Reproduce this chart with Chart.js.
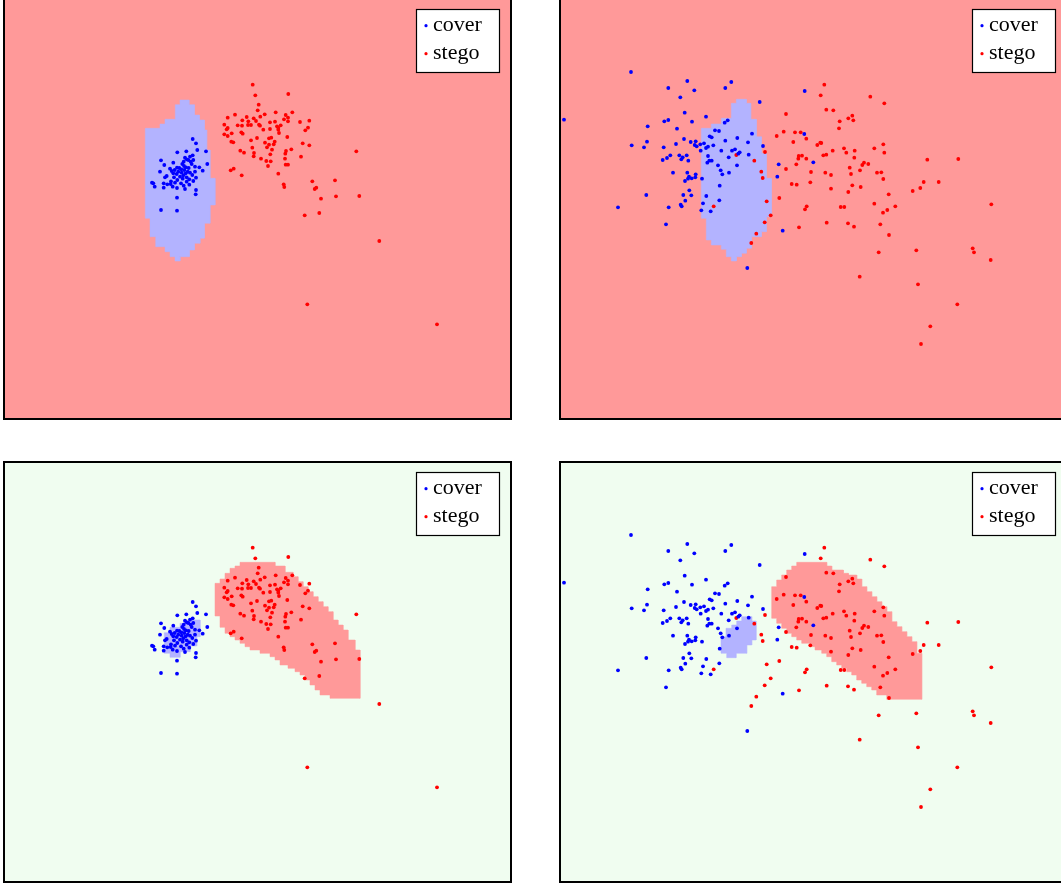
<!DOCTYPE html>
<html><head><meta charset="utf-8">
<script src="https://cdn.jsdelivr.net/npm/chart.js@4.4.1/dist/chart.umd.min.js"></script>
<style>
html,body{margin:0;padding:0;background:#fff;overflow:hidden;width:1061px;height:884px;position:relative}
canvas{position:absolute}
</style></head><body>
<script>
// ---- Data (left pair of panels: panels 1 & 3) ----
const coverA = [[192.7,139],[196,143.3],[197.3,150],[206,151.3],[177.3,152.3],[186.3,151.3],[192.7,155.3],[190,156.7],[185,157.7],[186.7,159.3],[161,160.3],[193.3,160],[190.7,161.7],[173.3,162.7],[164.3,165],[183.7,161.7],[182.3,164],[191.7,164],[207.3,164],[195,166.7],[199.3,167.3],[177,167.7],[170,168.7],[179.3,168],[186,167.3],[188.7,168],[184.3,170],[181.3,169.3],[174.7,170],[202.7,170.7],[171.7,171],[178.3,171.7],[187.7,171.7],[160,171.7],[173.3,173.3],[176.7,174],[181.7,172.7],[185.7,173.3],[190,172.7],[195,171.7],[192.3,175],[183.3,175.3],[166.7,176],[180,176.7],[186.7,177.3],[189.3,179.3],[196,177.7],[174,177.3],[165,177.3],[177.3,180],[171,181.3],[153.3,183.3],[154.7,186.7],[163.7,183.3],[167.3,184.3],[181,183.3],[183.7,185.7],[189.3,184.7],[193.3,181],[186.7,181.7],[177,188],[185,189],[163.7,187.7],[196,190],[195.7,194.3],[177,197.7],[161,210],[177,210.7],[170.7,184],[172.7,186.7],[175,182.7],[152,182.7],[182.7,178.7],[188.3,160],[184,166]];
const stegoA = [[252.7,84.7],[255.3,95.3],[288.3,94],[258.7,104.7],[257.7,110.3],[275.7,112.3],[292.3,112.3],[264.7,114.3],[235,114.7],[285.7,115],[227.7,117.7],[246.7,117],[260.3,116.7],[253.7,118.3],[288,117.7],[284,119.3],[242.3,120.3],[248.3,121.3],[256,121],[275,121.7],[288,121.3],[270,122.3],[300,122],[309.3,120.7],[224.3,124.7],[237.7,125.3],[242,125.7],[248,125],[251,125],[259,124.7],[260,125.7],[277,126.3],[280.7,125.3],[227.7,128],[226.7,129.3],[263.3,129.7],[270,129],[278.3,127.7],[278.3,129.7],[308,127.7],[305.3,130.3],[279,133],[241.3,132.3],[242.7,133.7],[224.3,134.3],[227.7,136],[231.7,133.3],[287.3,137],[257,138],[269,138.3],[271.3,137.7],[251,140.3],[231.3,141.7],[233.3,142.3],[265,142.7],[274.7,141.7],[269,144.7],[273.7,144.3],[267,147.3],[302.7,143.3],[309.3,145.3],[252.3,147.7],[272,149.7],[291.3,149.3],[240.3,150.7],[244,152.7],[254,153],[286,151],[285.3,153.7],[356.3,151.3],[270.3,154.3],[253.7,156.3],[301,156.7],[261,158.7],[285,158.7],[266.3,161],[270.7,161.3],[268,166],[285.7,164.7],[288,164.7],[233.7,168.7],[230.7,170.3],[241.7,175.3],[278.3,173.7],[283.7,184.3],[284.3,187],[312.3,181.3],[335,180.3],[316.3,187.7],[314.7,189],[321,198.7],[336,196.3],[359.3,196],[319.3,213],[304.7,215.3],[379.3,241],[307.3,304.3],[437,324.3]];

// ---- Data (right pair of panels: panels 2 & 4) ----
const coverB = [[631,72],[687.3,81],[731.3,82],[668.3,88],[725.3,88],[694.3,90.3],[680.3,97.3],[759.7,102],[564,119.7],[684.7,112.7],[706,116.7],[664.3,121.3],[668.3,120],[692,121.7],[727.7,120.3],[724.7,122.7],[647.7,126.3],[677,128.7],[715,130.3],[719,131],[752,133.7],[709.7,136.3],[711.7,137.3],[684,139],[737.3,138],[725.3,140.7],[647,141.7],[631.7,145.3],[644,147.3],[676,144],[690.7,142],[695.7,141.3],[694.7,145],[696.7,146.3],[700.3,144.3],[704,143.3],[713.3,145.3],[706,148],[708,146.7],[748,142.3],[763,146],[663.7,147.3],[700.7,150.7],[721.3,150.7],[732,150.7],[735,149.3],[739.7,152.3],[738.3,153.7],[748.7,154.7],[670.3,155.3],[667,158],[662.7,160],[679.3,155.3],[682.7,157.3],[686.7,155.3],[681.3,159.3],[688.3,160.7],[708,156],[728.7,157.3],[707.3,162.7],[709.3,160.7],[711.7,160.7],[718,165.3],[737,165.3],[778.7,164.3],[720.7,170.3],[722.3,174.3],[729,172.7],[673,172.7],[687.3,172.7],[695.7,174.3],[689,176.7],[695.3,177.3],[691.7,178.3],[688,178.7],[685,181],[702,178.7],[777.3,176.7],[719.7,185.7],[689.3,190.3],[683.3,195],[691.3,195.3],[646.3,195],[706.3,196],[685.3,200.7],[719.3,200.3],[703,203.3],[680.7,204.7],[681.7,206.3],[668.7,207.3],[618,207.3],[701.3,210.3],[710.7,211.3],[666,224.3],[747.3,268],[804.7,91],[804.3,134],[813.3,162.3],[782.7,230.7]];
const stegoB = [[776.7,136],[765,152],[736.3,155],[754.3,160.7],[761.3,171.7],[762.7,178],[779.3,198],[766.7,201.3],[713.7,206.3],[770.7,215.3],[764.7,222.3],[756.3,233.7],[751.3,243],[824.3,84.7],[820.7,95.3],[870.3,96.7],[884.3,103.3],[826.3,109.7],[833.3,110.3],[786,114],[852.3,115.7],[848.3,118.3],[853.3,120.3],[839.7,121.3],[839,128.3],[783.7,131.7],[795,132.3],[800.7,132.3],[806.3,138.7],[793.3,142],[820.3,142.7],[821.3,143],[817.3,145],[844,148.3],[832.7,150.7],[846.3,152.7],[854.7,150.7],[874.3,148.3],[883.3,144.3],[884.3,152.7],[798.7,156],[802,155.7],[798.3,158.7],[806.3,158.7],[823.3,155.3],[826.3,154.7],[854.3,157.7],[796.3,164.3],[786,169],[864,162.7],[862.3,165],[868.3,164],[849.7,167.7],[860,170.3],[851,174],[811,172],[825.3,172.7],[831,175],[877,172.7],[881.3,172.3],[883.3,179],[927.3,159.7],[958.3,159],[810.3,182.3],[791.7,184],[796.7,184.7],[852.3,185.3],[860.7,187],[831,188.7],[848.3,192],[923.7,182],[938.7,182],[920.3,188],[912.7,191],[888.7,194.3],[874.3,203.7],[806.7,206.3],[805,209.3],[840.7,207],[844.3,207],[895.3,206.3],[887.3,210],[883,212.7],[991.3,204.3],[826.7,222.7],[848,223.3],[854,226.7],[799,227.3],[880.3,224.3],[889,235],[878.7,252.3],[916.3,250.3],[972.7,248.3],[974,252.3],[990.7,260],[859.7,276.7],[918,284.3],[957.3,304.3],[930.3,326.3],[921,344]];

// ---- Decision regions (outlines of the shaded areas) ----
const regionCover1 = [[180,100],[189,100],[189,104.7],[194.3,104.7],[194.3,115],[199.3,115],[199.3,120],[204.3,120],[204.3,130],[206.7,130],[206.7,150],[210,150],[210,178.3],[215,178.3],[215,205],[210,205],[210,223.3],[204.3,223.3],[204.3,238.3],[200,238.3],[200,243.3],[194.3,243.3],[194.3,250],[189.3,250],[189.3,256.7],[180,256.7],[180,261],[175,261],[175,256.7],[170,256.7],[170,251.7],[165,251.7],[165,246.7],[155.7,246.7],[155.7,236.7],[150,236.7],[150,218.3],[145.3,218.3],[145.3,128.3],[160,128.3],[160,124],[165,124],[165,119.3],[175.3,119.3],[175.3,104.7],[180,104.7],[180,100]];
const regionCover2 = [[736.3,99.3],[746.3,99.3],[746.3,103.3],[750.7,103.3],[750.7,119.3],[756.3,119.3],[756.3,136.7],[761.3,136.7],[761.3,153.3],[766.3,153.3],[766.3,178.3],[771.3,178.3],[771.3,216.7],[766.3,216.7],[766.3,231.7],[761.3,231.7],[761.3,236.7],[751.3,236.7],[751.3,248.3],[746.3,248.3],[746.3,253.3],[741.3,253.3],[741.3,256.7],[736.3,256.7],[736.3,261],[731.3,261],[731.3,256.7],[726.3,256.7],[726.3,249.3],[721.3,249.3],[721.3,245],[711.3,245],[711.3,240],[706.3,240],[706.3,218.3],[701.3,218.3],[701.3,128.3],[711.3,128.3],[711.3,124],[721.3,124],[721.3,118.3],[731.3,118.3],[731.3,103.3],[736.3,103.3],[736.3,99.3]];
const regionStego3 = [[240,99.3],[275,99.3],[275,103],[285,103],[285,109.3],[293,109.3],[293,113.7],[298,113.7],[298,118.7],[303,118.7],[303,123.7],[308,123.7],[308,128.7],[313,128.7],[313,133.7],[318,133.7],[318,138.7],[323,138.7],[323,143.7],[328,143.7],[328,148.7],[333,148.7],[333,157],[338,157],[338,162],[343,162],[343,167],[348,167],[348,177],[355,177],[355,187],[360,187],[360,235.3],[330,235.3],[330,232],[320,232],[320,227],[315,227],[315,222],[310,222],[310,217],[305,217],[305,212],[300,212],[300,208.7],[295,208.7],[295,205.3],[288,205.3],[288,202],[280,202],[280,197],[275,197],[275,193.7],[270,193.7],[270,190.3],[260,190.3],[260,187],[250,187],[250,183.7],[245,183.7],[245,180.3],[240,180.3],[240,177],[235,177],[235,173.7],[230,173.7],[230,170.3],[225,170.3],[225,164.3],[220,164.3],[220,153],[215,153],[215,120.3],[220,120.3],[220,116],[225,116],[225,110.3],[230,110.3],[230,105.3],[235,105.3],[235,103],[240,103],[240,99.3]];
const regionCover3 = [[185,157],[200,157],[200,173.7],[196.7,173.7],[196.7,183],[190,183],[190,188.7],[180,188.7],[180,194.3],[170,194.3],[170,190.3],[164.3,190.3],[164.3,169.7],[170,169.7],[170,164.3],[180,164.3],[180,160.3],[185,160.3],[185,157]];
const regionStego4 = [[796.7,99.3],[826.7,99.3],[826.7,103],[831.7,103],[831.7,107],[843.3,107],[843.3,110.3],[848.3,110.3],[848.3,112],[856.7,112],[856.7,116],[861.7,116],[861.7,123.7],[866.7,123.7],[866.7,128.7],[871.7,128.7],[871.7,133.7],[876.7,133.7],[876.7,138.7],[881.7,138.7],[881.7,143.7],[886.7,143.7],[886.7,148.7],[891.7,148.7],[891.7,158.7],[896.7,158.7],[896.7,163.7],[901.7,163.7],[901.7,168.7],[906.7,168.7],[906.7,173.7],[911.7,173.7],[911.7,178.7],[916.7,178.7],[916.7,190.3],[921.7,190.3],[921.7,236.3],[886.7,236.3],[886.7,232],[876.7,232],[876.7,227],[871.7,227],[871.7,223.7],[866.7,223.7],[866.7,220.3],[861.7,220.3],[861.7,217],[856.7,217],[856.7,212],[851.7,212],[851.7,208.7],[846.7,208.7],[846.7,205.3],[841.7,205.3],[841.7,202],[836.7,202],[836.7,198.7],[831.7,198.7],[831.7,193.7],[826.7,193.7],[826.7,190.3],[821.7,190.3],[821.7,187],[815,187],[815,183.7],[810,183.7],[810,180.3],[801.7,180.3],[801.7,177],[796.7,177],[796.7,173.7],[791.7,173.7],[791.7,170.3],[786.7,170.3],[786.7,165.3],[781.7,165.3],[781.7,160.3],[776.7,160.3],[776.7,155.3],[771.7,155.3],[771.7,123.7],[776.7,123.7],[776.7,117],[781.7,117],[781.7,112],[786.7,112],[786.7,107],[791.7,107],[791.7,103],[796.7,103],[796.7,99.3]];
const regionCover4 = [[741.7,153.7],[751.7,153.7],[751.7,158],[756,158],[756,177],[751.7,177],[751.7,182],[746.7,182],[746.7,190.3],[736,190.3],[736,194.7],[726.7,194.7],[726.7,190.3],[721,190.3],[721,173.7],[726,173.7],[726,165.3],[731.7,165.3],[731.7,162],[736.7,162],[736.7,158],[741.7,158],[741.7,153.7]];

const legendLabels = ['cover', 'stego'];

// ---- Styles ----
const COL_COVER = '#0000ff', COL_STEGO = '#ff0000';
const BG_RED = '#ff9999', BG_GREEN = '#f0fdf0', REG_BLUE = '#b3b3ff', REG_RED = '#ff9999';
const W = 509, H = 422;

const deco = {
  id: 'deco',
  beforeDraw(chart, args, o) {
    const {ctx, chartArea: a} = chart;
    ctx.save(); ctx.fillStyle = o.bg; ctx.fillRect(a.left, a.top, a.width, a.height); ctx.restore();
  },
  afterDraw(chart, args, o) {
    const {ctx, chartArea: a} = chart;
    ctx.save();
    ctx.strokeStyle = '#000'; ctx.lineWidth = 2;
    ctx.strokeRect(a.left + 1, a.top + 1, a.width - 2, a.height - 2);
    const bx = a.left + 413, by = a.top + 11, bw = 84, bh = 64;
    ctx.fillStyle = '#fff'; ctx.fillRect(bx, by, bw, bh);
    ctx.lineWidth = 1.2; ctx.strokeRect(bx + 0.5, by + 0.5, bw - 1, bh - 1);
    ctx.font = '22px "Liberation Serif", "DejaVu Serif", serif';
    ctx.textBaseline = 'alphabetic';
    const cols = [COL_COVER, COL_STEGO];
    legendLabels.forEach((lab, i) => {
      const yb = by + 21.7 + i * 28;
      ctx.fillStyle = cols[i];
      ctx.beginPath(); ctx.arc(bx + 10, yb - 5, 1.6, 0, Math.PI * 2); ctx.fill();
      ctx.fillStyle = '#000';
      ctx.fillText(lab, bx + 17, yb);
    });
    ctx.restore();
  }
};

function mkPts(arr) { return arr.map(p => ({x: p[0], y: p[1]})); }

function panel(left, top, xmin, bg, regions, cover, stego) {
  const cv = document.createElement('canvas');
  cv.width = W; cv.height = H;
  cv.style.left = left + 'px'; cv.style.top = top + 'px';
  cv.style.width = W + 'px'; cv.style.height = H + 'px';
  document.body.appendChild(cv);
  const ds = regions.map(r => ({
    data: mkPts(r.poly), showLine: true, fill: 'shape', tension: 0,
    backgroundColor: r.color, borderColor: r.color, borderWidth: 0.5,
    pointRadius: 0, order: 10
  }));
  ds.push({label: 'cover', data: mkPts(cover), backgroundColor: COL_COVER, borderWidth: 0, pointRadius: 1.9, order: 1});
  ds.push({label: 'stego', data: mkPts(stego), backgroundColor: COL_STEGO, borderWidth: 0, pointRadius: 1.9, order: 1});
  new Chart(cv, {
    type: 'scatter',
    data: {datasets: ds},
    options: {
      responsive: false, animation: false, events: [],
      layout: {padding: 0, autoPadding: false},
      scales: {
        x: {type: 'linear', min: xmin, max: xmin + W, display: false},
        y: {type: 'linear', min: -2, max: -2 + H, reverse: true, display: false}
      },
      plugins: {legend: {display: false}, tooltip: {enabled: false}, deco: {bg: bg}}
    },
    plugins: [deco]
  });
}

panel(3, -2, 3, BG_RED, [{poly: regionCover1, color: REG_BLUE}], coverA, stegoA);
panel(559, -2, 559, BG_RED, [{poly: regionCover2, color: REG_BLUE}], coverB, stegoB);
panel(3, 461, 3, BG_GREEN, [{poly: regionStego3, color: REG_RED}, {poly: regionCover3, color: REG_BLUE}], coverA, stegoA);
panel(559, 461, 559, BG_GREEN, [{poly: regionStego4, color: REG_RED}, {poly: regionCover4, color: REG_BLUE}], coverB, stegoB);
</script>
</body></html>
